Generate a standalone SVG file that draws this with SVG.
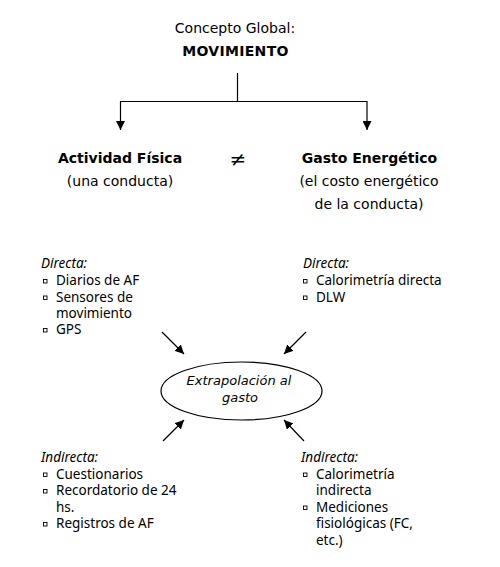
<svg xmlns="http://www.w3.org/2000/svg" width="500" height="567" viewBox="0 0 500 567">
<defs>
<marker id="ah" viewBox="0 0 10 10" refX="10" refY="5" markerWidth="9" markerHeight="9" markerUnits="userSpaceOnUse" orient="auto"><path d="M0,0 L10,5 L0,10 Z" fill="#000"/></marker>
<style>
.t{font-family:"DejaVu Sans",Verdana,sans-serif;font-size:14px;fill:#000}
.b{font-family:"DejaVu Sans",Verdana,sans-serif;font-size:14px;font-weight:bold;fill:#000}
.l{font-family:"Noto Sans","Open Sans",sans-serif;font-size:13.5px;fill:#000}
.i{font-style:italic}
.e{font-family:"DejaVu Sans",Verdana,sans-serif;font-size:13px;font-style:italic;fill:#000}
.c{stroke:#000;stroke-width:1.2;fill:none}
.a{stroke:#000;stroke-width:1.2;fill:none;marker-end:url(#ah)}
.bl{fill:#fff;stroke:#000;stroke-width:0.9}
</style>
</defs>
<rect width="500" height="567" fill="#fff"/>
<g id="connectors">
<line class="c" x1="237.5" y1="73" x2="237.5" y2="101.5"/>
<line class="c" x1="120.5" y1="101.5" x2="367" y2="101.5"/>
<line class="a" x1="120.5" y1="101" x2="120.5" y2="130"/>
<line class="a" x1="367" y1="101" x2="367" y2="130"/>
<line class="a" x1="162" y1="332" x2="184" y2="354"/>
<line class="a" x1="306" y1="332" x2="284" y2="354"/>
<line class="a" x1="163" y1="441" x2="184" y2="420"/>
<line class="a" x1="304" y1="441" x2="284" y2="420"/>
</g>
<g id="global">
<text class="t" x="235" y="33" text-anchor="middle">Concepto Global:</text>
<text class="b" x="235.5" y="56" text-anchor="middle" letter-spacing="0.3">MOVIMIENTO</text>
</g>
<g id="actividad">
<text class="b" x="120" y="163" text-anchor="middle">Actividad Física</text>
<text class="t" x="120" y="186" text-anchor="middle">(una conducta)</text>
</g>
<g id="neq">
<text x="238" y="166" text-anchor="middle" font-family="DejaVu Sans, sans-serif" font-size="20">≠</text>
</g>
<g id="gasto">
<text class="b" x="369.5" y="163" text-anchor="middle">Gasto Energético</text>
<text class="t" x="369" y="186" text-anchor="middle">(el costo energético</text>
<text class="t" x="369" y="209" text-anchor="middle">de la conducta)</text>
</g>
<g id="af-directa">
<text class="l i" x="41" y="268">Directa:</text>
<rect class="bl" x="43.5" y="279.5" width="3.5" height="3.5"/>
<text class="l" x="56" y="285">Diarios de AF</text>
<rect class="bl" x="43.5" y="296" width="3.5" height="3.5"/>
<text class="l" x="56" y="301.5">Sensores de</text>
<text class="l" x="56" y="318">movimiento</text>
<rect class="bl" x="43.5" y="328.5" width="3.5" height="3.5"/>
<text class="l" x="56" y="334">GPS</text>
</g>
<g id="ge-directa">
<text class="l i" x="303" y="268">Directa:</text>
<rect class="bl" x="303.5" y="279.5" width="3.5" height="3.5"/>
<text class="l" x="316" y="285">Calorimetría directa</text>
<rect class="bl" x="303.5" y="296" width="3.5" height="3.5"/>
<text class="l" x="316" y="301.5">DLW</text>
</g>
<g id="extrapolacion">
<ellipse cx="241.5" cy="391" rx="80.5" ry="29" fill="#fff" stroke="#000" stroke-width="1.2"/>
<text class="e" x="239" y="385" text-anchor="middle">Extrapolación al</text>
<text class="e" x="240" y="402" text-anchor="middle">gasto</text>
</g>
<g id="af-indirecta">
<text class="l i" x="41" y="462">Indirecta:</text>
<rect class="bl" x="43.5" y="473" width="3.5" height="3.5"/>
<text class="l" x="56" y="478.5">Cuestionarios</text>
<rect class="bl" x="43.5" y="489.5" width="3.5" height="3.5"/>
<text class="l" x="56" y="495">Recordatorio de 24</text>
<text class="l" x="56" y="511.5">hs.</text>
<rect class="bl" x="43.5" y="522.5" width="3.5" height="3.5"/>
<text class="l" x="56" y="528">Registros de AF</text>
</g>
<g id="ge-indirecta">
<text class="l i" x="301" y="462">Indirecta:</text>
<rect class="bl" x="303.5" y="473" width="3.5" height="3.5"/>
<text class="l" x="316" y="478.5">Calorimetría</text>
<text class="l" x="316" y="495">indirecta</text>
<rect class="bl" x="303.5" y="506" width="3.5" height="3.5"/>
<text class="l" x="316" y="511.5">Mediciones</text>
<text class="l" x="316" y="528">fisiológicas (FC,</text>
<text class="l" x="316" y="544.5">etc.)</text>
</g>
</svg>
